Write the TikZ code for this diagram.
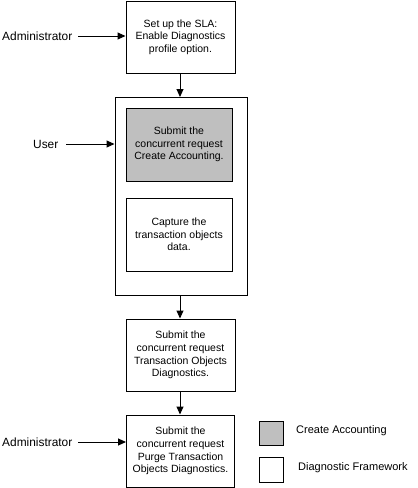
\documentclass[tikz,border=0pt]{standalone}
\usepackage{fontspec}
\setmainfont{Liberation Sans}
\usetikzlibrary{arrows.meta}
\begin{document}
\begin{tikzpicture}[x=1pt,y=-1pt,
  every node/.style={inner sep=0pt},
  stepbox/.style={draw,line width=1pt,align=center,font=\fontsize{10.5}{12.6}\selectfont},
  lbl/.style={font=\fontsize{11}{13}\selectfont,anchor=west},
  actor/.style={font=\fontsize{11.9}{14}\selectfont,anchor=west},
  arr/.style={line width=1pt,-{Triangle[length=8pt,width=7pt]}}]
\useasboundingbox (0,0) rectangle (418,488);
\node[stepbox,minimum width=109pt,minimum height=72pt] (b1) at (180.5,37) {Set up the SLA:\\Enable Diagnostics\\profile option.};
\node[draw,line width=1pt,minimum width=132pt,minimum height=198pt] (outer) at (181,196) {};
\node[stepbox,fill=black!25,minimum width=106pt,minimum height=73pt] (b2) at (179,144.5) {Submit the\\concurrent request\\Create Accounting.};
\node[stepbox,minimum width=106pt,minimum height=73pt] (cap) at (179,234.5) {Capture the\\transaction objects\\data.};
\node[stepbox,minimum width=109pt,minimum height=72pt] (b3) at (180.5,355) {Submit the\\concurrent request\\Transaction Objects\\Diagnostics.};
\node[stepbox,minimum width=108pt,minimum height=72pt] (b4) at (180.5,451) {Submit the\\concurrent request\\Purge Transaction\\Objects Diagnostics.};
\node[draw,line width=1pt,fill=black!25,minimum width=24pt,minimum height=24pt] (lg1) at (271,433) {};
\node[draw,line width=1pt,minimum width=24pt,minimum height=25pt] (lg2) at (271,469.5) {};
\node[lbl] (t1) at (296,431) {Create Accounting};
\node[lbl] (t2) at (298,468) {Diagnostic Framework};
\node[actor] (a1) at (2,36) {Administrator};
\node[actor] (u) at (33,144) {User};
\node[actor] (a2) at (2,442) {Administrator};
\coordinate (a1e) at (78,36);
\coordinate (ue) at (66,144);
\coordinate (a2e) at (78,442);
\draw[arr] (a1e) -- (a1e -| b1.west);
\draw[arr] (ue) -- (ue -| outer.west);
\draw[arr] (a2e) -- (a2e -| b4.west);
\draw[arr] (180,73) -- (180,97);
\draw[arr] (outer.south -| 180,0) -- (b3.north -| 180,0);
\draw[arr] (b3.south -| 180,0) -- (b4.north -| 180,0);
\end{tikzpicture}
\end{document}
